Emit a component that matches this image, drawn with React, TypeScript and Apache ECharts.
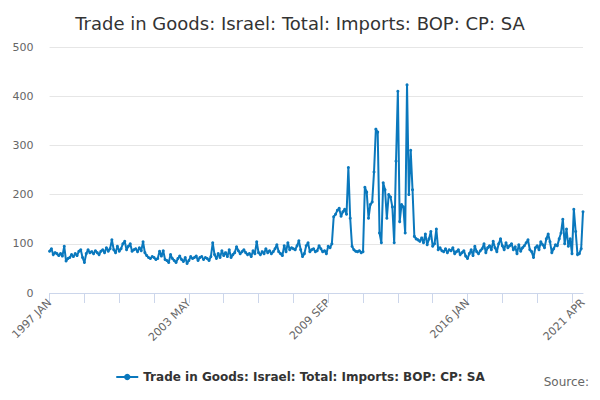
import React, { useEffect, useRef } from 'react';
import * as echarts from 'echarts';

const years = Array.from({ length: 25 }, (_, i) => 1997 + i);
const monthNames = ['JAN', 'FEB', 'MAR', 'APR', 'MAY', 'JUN', 'JUL', 'AUG', 'SEP', 'OCT', 'NOV', 'DEC'];
const categories: string[] = [];
years.forEach((y) => monthNames.forEach((m) => categories.push(`${y} ${m}`)));
categories.length = 292;

const imports = [
  85, 90, 78, 82, 80, 76, 80, 75, 95, 65, 70, 72,
  78, 74, 80, 76, 85, 88, 72, 62, 80, 88, 82, 84,
  80, 86, 82, 78, 85, 88, 82, 92, 85, 90, 108, 88,
  82, 95, 85, 90, 100, 105, 88, 95, 100, 85, 88, 90,
  84, 92, 86, 104, 82, 76, 72, 70, 74, 72, 68, 70,
  85, 75, 86, 68, 66, 62, 78, 70, 66, 62, 70, 75,
  68, 64, 72, 60, 66, 74, 70, 72, 75, 66, 72, 74,
  68, 72, 70, 66, 74, 102, 78, 70, 80, 72, 86, 76,
  82, 74, 88, 72, 78, 82, 94, 86, 80, 84, 88, 82,
  78, 80, 74, 86, 80, 104, 82, 78, 84, 80, 90, 82,
  86, 80, 84, 90, 98, 84, 80, 76, 96, 84, 102, 88,
  92, 90, 88, 96, 106, 88, 74, 80, 96, 102, 84, 88,
  90, 84, 86, 96, 90, 84, 86, 80, 95, 92, 100, 155,
  160, 168, 172, 156, 165, 170, 160, 255, 152, 95, 88, 85,
  84, 86, 82, 84, 215, 205, 152, 180, 185, 246, 333, 327,
  122, 102, 224, 210, 152, 200, 195, 175, 102, 268, 410, 145,
  180, 175, 122, 423, 200, 290, 210, 115, 110, 108, 105, 112,
  102, 120, 98, 110, 125, 95, 100, 130, 88, 92, 86, 84,
  90, 82, 88, 86, 92, 80, 84, 88, 78, 82, 86, 75,
  70, 80, 88, 76, 95, 84, 80, 86, 90, 100, 82, 92,
  96, 88, 105, 92, 84, 100, 110, 96, 88, 102, 92, 96,
  100, 88, 94, 80, 98, 85, 92, 96, 102, 108, 88, 84,
  72, 92, 96, 88, 104, 98, 92, 110, 120, 104, 82, 90,
  98, 96, 110, 122, 150, 100, 130, 95, 110, 80, 170, 125,
  78, 80, 90, 165,
];

const seriesName = 'Trade in Goods: Israel: Total: Imports: BOP: CP: SA';

export default function App() {
  const chartRef = useRef<HTMLDivElement>(null);

  useEffect(() => {
    if (!chartRef.current) return;
    const chart = echarts.init(chartRef.current, null, { renderer: 'svg' });
    const last = categories.length - 1;
    chart.setOption({
      animation: false,
      textStyle: { fontFamily: 'DejaVu Sans' },
      title: {
        text: 'Trade in Goods: Israel: Total: Imports: BOP: CP: SA',
        left: 'center',
        top: 1,
        textStyle: { fontSize: 18, fontWeight: 'normal', color: '#333' },
      },
      graphic: [
        { type: 'text', right: 3, bottom: 4, style: { text: 'Source:', fontSize: 12, fill: '#666', fontFamily: 'DejaVu Sans' } },
      ],
      legend: {
        top: 358,
        left: 'center',
        itemWidth: 22,
        itemHeight: 8,
        textStyle: { fontSize: 12, fontWeight: 'bold', color: '#333' },
      },
      grid: { left: 39, right: 9, top: 39, bottom: 99 },
      xAxis: {
        type: 'category',
        data: categories,
        boundaryGap: false,
        axisLine: { lineStyle: { color: '#ccd6eb' } },
        axisTick: { interval: 18, length: 10, lineStyle: { color: '#ccd6eb' } },
        axisLabel: {
          interval: (i: number) => i % 76 === 0 || i === last,
          rotate: 45,
          color: '#666',
          fontSize: 11,
        },
      },
      yAxis: {
        type: 'value',
        min: 0,
        max: 500,
        interval: 100,
        axisLabel: { color: '#666', fontSize: 11, margin: 16 },
        splitLine: { lineStyle: { color: '#e6e6e6' } },
      },
      series: [
        {
          name: seriesName,
          type: 'line',
          data: imports,
          symbol: 'circle',
          symbolSize: 3,
          showAllSymbol: true,
          itemStyle: { color: '#0a78bd' },
          lineStyle: { color: '#0a78bd', width: 2 },
        },
      ],
    });
    return () => chart.dispose();
  }, []);

  return <div ref={chartRef} style={{ width: '584px', height: '384px' }}></div>;
}
